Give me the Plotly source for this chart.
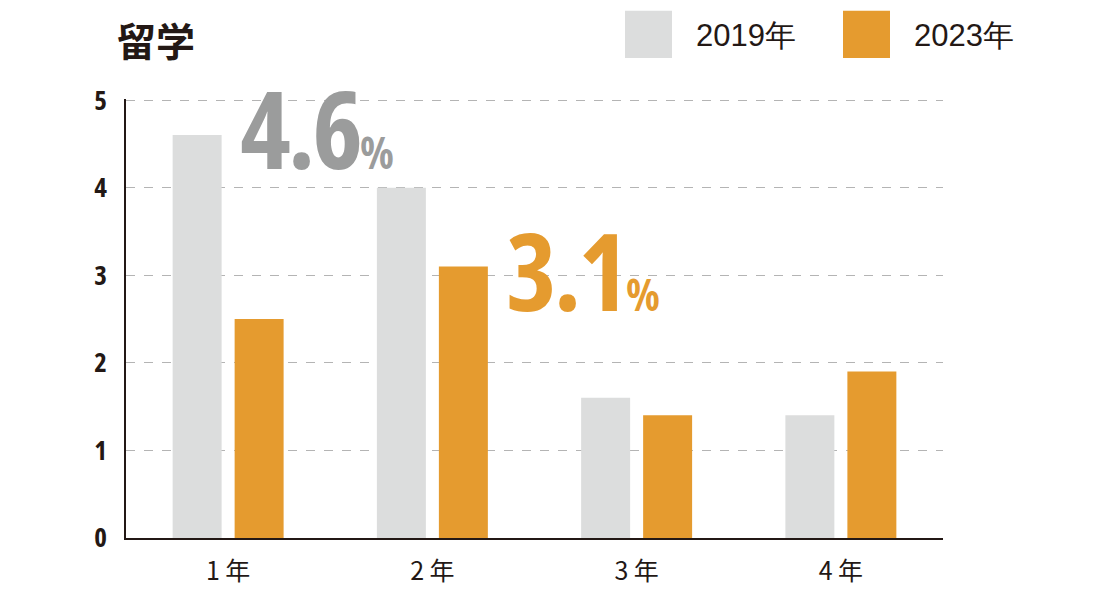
import plotly.graph_objects as go

categories = ["1 年", "2 年", "3 年", "4 年"]
values_2019 = [4.6, 4.0, 1.6, 1.4]
values_2023 = [2.5, 3.1, 1.4, 1.9]
series_names = ["2019年", "2023年"]
y_ticks = [0, 1, 2, 3, 4, 5]

GRAY = "#dcdddd"
ORANGE = "#e59b2f"
BIG_GRAY = "#9b9c9c"
INK = "#231815"
COND = "Open Sans"
CJK = "Noto Sans CJK JP"


def cond(s, extra=""):
    return f"<span style='font-stretch:condensed;{extra}'>{s}</span>"


fig = go.Figure()
fig.add_trace(go.Bar(x=categories, y=values_2019, name=series_names[0],
                     marker=dict(color=GRAY, line=dict(width=0)), showlegend=False))
fig.add_trace(go.Bar(x=categories, y=values_2023, name=series_names[1],
                     marker=dict(color=ORANGE, line=dict(width=0)), showlegend=False))

# page body adds an 8px offset; plot area on screen: x 126-943, y 100-538
fig.update_layout(
    width=1100, height=600,
    margin=dict(l=118, r=165, t=91, b=70),
    paper_bgcolor="white", plot_bgcolor="white",
    barmode="group", bargap=0.393, bargroupgap=0.21,
    showlegend=False,
    font=dict(family=CJK, color=INK),
)
fig.update_xaxes(
    showgrid=False, showline=True, linecolor=INK, linewidth=1.5,
    ticks="", tickfont=dict(family=CJK, size=25, color=INK),
    ticklabelstandoff=10,
)
fig.update_yaxes(
    range=[0, 5.012], tickvals=y_ticks, ticktext=[cond(str(v)) for v in y_ticks],
    showgrid=True, gridcolor="#b4b4b4", griddash="dash", gridwidth=1,
    showline=True, linecolor=INK, linewidth=1.5, zeroline=False,
    ticks="", tickfont=dict(family=COND, size=27, color=INK, weight="bold"),
    ticklabelstandoff=12,
)

# Title
fig.add_annotation(text="<b>留学</b>", xref="paper", yref="paper",
                   x=(115 - 126) / 817, y=(538 - 40) / 438,
                   xanchor="left", yanchor="middle",
                   showarrow=False, font=dict(family=CJK, size=39, color=INK))

# Legend drawn as shapes + text
legend_items = [(series_names[0], GRAY, 625), (series_names[1], ORANGE, 843)]
for name, col, px in legend_items:
    fig.add_shape(type="rect", xref="paper", yref="paper",
                  x0=(px - 126) / 817, x1=(px + 47 - 126) / 817,
                  y0=(538 - 59) / 438, y1=(538 - 12) / 438,
                  fillcolor=col, line=dict(width=0))
    fig.add_annotation(text=name, xref="paper", yref="paper",
                       x=(px + 69 - 126) / 817, y=(538 - 37) / 438,
                       xanchor="left", yanchor="middle", showarrow=False,
                       font=dict(family="Liberation Sans", size=31, color=INK))

# Highlight annotations
pct = "<span style='font-size:44px;letter-spacing:0px'>%</span>"
fig.add_annotation(
    text=cond(f"<b>{values_2019[0]}{pct}</b>", "letter-spacing:-3px"),
    x=0.05, xref="x", y=4.69, yref="y", xanchor="left", yanchor="middle",
    showarrow=False, font=dict(family=COND, size=108, color=BIG_GRAY))
fig.add_annotation(
    text=cond(f"<b>{values_2023[1]}{pct}</b>", "letter-spacing:-3px"),
    x=1.35, xref="x", y=3.06, yref="y", xanchor="left", yanchor="middle",
    showarrow=False, font=dict(family=COND, size=108, color=ORANGE))

fig.write_html("out.html")
